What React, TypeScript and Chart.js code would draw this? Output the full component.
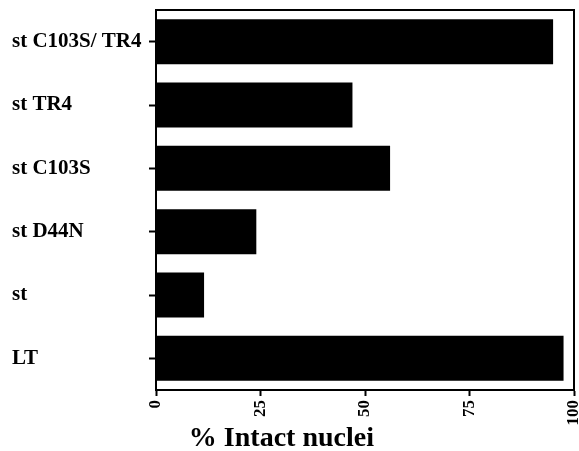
import React, { useEffect, useRef } from "react";
import { Chart, registerables } from "chart.js";

Chart.register(...registerables);

const categories = ["st C103S/ TR4", "st TR4", "st C103S", "st D44N", "st", "LT"];
const intactNuclei = [95, 47, 56, 24, 11.5, 97.5];
const xTicks = [0, 25, 50, 75, 100];
const axisTitle = "% Intact nuclei";

const SERIF = '"Liberation Serif", "DejaVu Serif", serif';

const framePlugin = {
  id: "frameAndTitle",
  afterDraw(chart: any) {
    const { ctx, chartArea } = chart;
    ctx.save();
    ctx.strokeStyle = "#000";
    ctx.lineWidth = 2;
    ctx.strokeRect(chartArea.left, chartArea.top, chartArea.right - chartArea.left, chartArea.bottom - chartArea.top);
    const xs = chart.scales.x;
    ctx.fillStyle = "#000";
    ctx.font = `bold 28px ${SERIF}`;
    ctx.textAlign = "center";
    ctx.textBaseline = "alphabetic";
    ctx.fillText(axisTitle, xs.getPixelForValue(30), 446);
    ctx.restore();
  },
};

export default function App() {
  const ref = useRef<HTMLCanvasElement | null>(null);
  useEffect(() => {
    if (!ref.current) return;
    const chart = new Chart(ref.current, {
      type: "bar",
      data: {
        labels: categories,
        datasets: [
          {
            data: intactNuclei,
            backgroundColor: "#000",
            borderWidth: 0,
            categoryPercentage: 1,
            barPercentage: 0.71,
          },
        ],
      },
      options: {
        indexAxis: "y",
        animation: false,
        responsive: false,
        maintainAspectRatio: false,
        layout: { padding: { left: 12, top: 10, right: 5, bottom: 0 } },
        plugins: { legend: { display: false }, tooltip: { enabled: false } },
        scales: {
          x: {
            type: "linear",
            min: 0,
            max: 100,
            afterBuildTicks: (s: any) => {
              s.ticks = xTicks.map((v) => ({ value: v }));
            },
            afterFit: (s: any) => {
              s.height = 61;
              s.paddingRight = 0;
              s.paddingLeft = 0;
            },
            ticks: {
              minRotation: 90,
              maxRotation: 90,
              color: "#000",
              font: { family: SERIF, weight: "bold", size: 17 },
              padding: 4,
            },
            grid: { drawOnChartArea: false, tickLength: 6, color: "#000", tickWidth: 2 },
            border: { display: true, color: "#000", width: 2 },
          },
          y: {
            afterFit: (s: any) => {
              s.width = 144;
              s.paddingTop = 0;
              s.paddingBottom = 0;
            },
            ticks: {
              crossAlign: "far",
              color: "#000",
              font: { family: SERIF, weight: "bold", size: 21 },
              padding: 3,
            },
            grid: { offset: false, drawOnChartArea: false, tickLength: 7, color: "#000", tickWidth: 2 },
            border: { display: true, color: "#000", width: 2 },
          },
        },
      },
      plugins: [framePlugin],
    } as any);
    return () => chart.destroy();
  }, []);
  return (
    <div style={{ position: "fixed", left: 0, top: 0, width: 579, height: 451, background: "#fff" }}>
      <canvas ref={ref} width={579} height={451} style={{ width: 579, height: 451, display: "block" }} />
    </div>
  );
}
